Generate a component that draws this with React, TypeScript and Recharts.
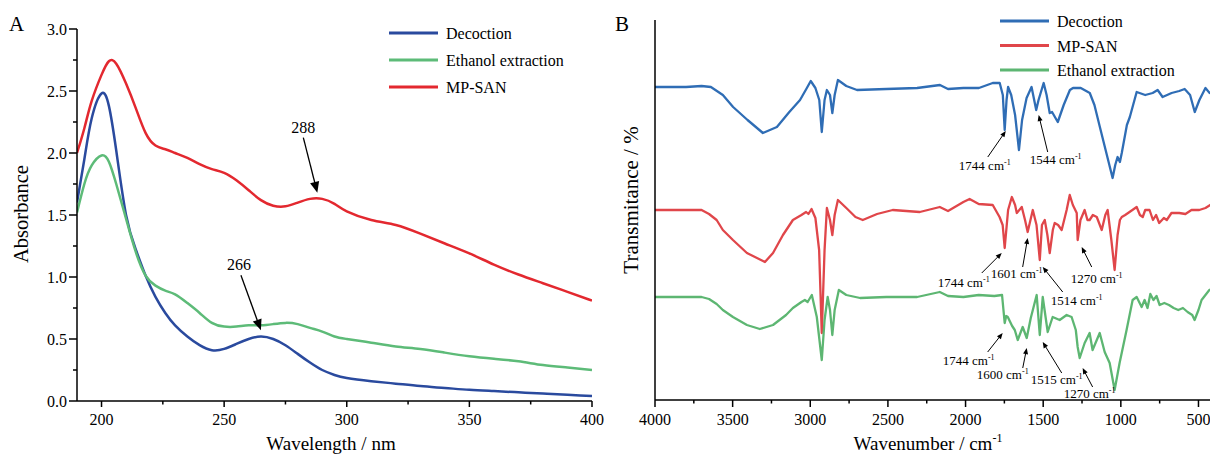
import { LineChart, Line, XAxis, YAxis, ReferenceDot, Legend } from "recharts";

const SERIF = '"Liberation Serif", "Times New Roman", serif';

// ---------- A: UV-vis absorbance ----------
const wavelength = [190, 193, 196, 200, 203, 206, 210, 214, 218, 222, 226, 230, 235, 240, 245, 250, 255, 260, 265, 270, 275, 280, 285, 290, 295, 300, 310, 320, 330, 340, 350, 360, 370, 380, 390, 400];
const decoctionAbs = [1.6, 1.95, 2.28, 2.48, 2.38, 2.02, 1.5, 1.22, 1.01, 0.84, 0.71, 0.61, 0.52, 0.45, 0.41, 0.42, 0.46, 0.5, 0.52, 0.5, 0.45, 0.38, 0.31, 0.25, 0.21, 0.185, 0.16, 0.14, 0.12, 0.105, 0.09, 0.08, 0.07, 0.06, 0.05, 0.04];
const ethanolAbs = [1.52, 1.75, 1.9, 1.98, 1.93, 1.75, 1.47, 1.2, 1.01, 0.93, 0.89, 0.86, 0.79, 0.71, 0.63, 0.6, 0.6, 0.61, 0.61, 0.62, 0.63, 0.62, 0.59, 0.56, 0.52, 0.5, 0.47, 0.44, 0.42, 0.39, 0.36, 0.34, 0.32, 0.29, 0.27, 0.25];
const mpsanAbs = [2.0, 2.2, 2.42, 2.63, 2.74, 2.72, 2.56, 2.36, 2.16, 2.06, 2.03, 2.0, 1.96, 1.91, 1.87, 1.84, 1.78, 1.7, 1.62, 1.575, 1.57, 1.6, 1.63, 1.63, 1.59, 1.53, 1.46, 1.42, 1.35, 1.27, 1.19, 1.1, 1.02, 0.95, 0.88, 0.81];
const wavelengthTicks = [200, 225, 250, 275, 300, 325, 350, 375, 400];
const absTicks = [0, 0.25, 0.5, 0.75, 1, 1.25, 1.5, 1.75, 2, 2.25, 2.5, 2.75, 3];
const uvPeaks = [
  { label: "288", nm: 288, abs: 1.68 },
  { label: "266", nm: 265, abs: 0.57 },
];

// ---------- B: FTIR (transmittance, curves offset) ----------
const decoctionIR: [number, number][] = [
  [4000, 313], [3800, 313], [3700, 314], [3640, 313], [3563, 305], [3497, 293], [3404, 280], [3305, 267], [3215, 273], [3135, 288],
  [3066, 300], [3022, 312], [2997, 319], [2967, 312], [2942, 300], [2926, 268], [2908, 300], [2893, 310], [2873, 305], [2858, 287],
  [2843, 305], [2822, 320], [2768, 314], [2699, 310], [2510, 311], [2312, 312], [2165, 315], [2113, 311], [2014, 312], [1914, 312],
  [1825, 317], [1780, 317], [1760, 305], [1748, 270], [1736, 300], [1726, 313], [1706, 305], [1681, 285], [1656, 250], [1636, 280],
  [1607, 302], [1575, 313], [1545, 290], [1530, 300], [1497, 317], [1478, 305], [1458, 287], [1443, 288], [1406, 278], [1368, 295],
  [1328, 310], [1308, 312], [1258, 312], [1200, 307], [1170, 295], [1135, 273], [1090, 245], [1053, 222], [1036, 235], [1021, 243],
  [1006, 238], [994, 247], [961, 275], [942, 283], [898, 308], [843, 305], [795, 307], [763, 310], [731, 303], [673, 307],
  [624, 309], [589, 311], [554, 305], [524, 288], [494, 300], [455, 312], [428, 307], [403, 309],
];
const mpsanIR: [number, number][] = [
  [4000, 190], [3800, 190], [3700, 190], [3652, 186], [3603, 180], [3563, 170], [3498, 160], [3408, 147], [3292, 138], [3240, 147],
  [3176, 165], [3112, 180], [3057, 185], [3027, 188], [3012, 186], [2992, 191], [2967, 182], [2943, 150], [2926, 67], [2908, 150],
  [2893, 192], [2873, 180], [2858, 165], [2843, 185], [2822, 200], [2768, 192], [2709, 183], [2662, 180], [2570, 186], [2469, 190],
  [2295, 188], [2166, 193], [2113, 189], [2014, 198], [1974, 201], [1915, 196], [1825, 195], [1781, 183], [1761, 175], [1748, 152],
  [1726, 190], [1702, 203], [1681, 195], [1670, 187], [1638, 193], [1617, 180], [1600, 168], [1567, 190], [1543, 175], [1522, 140],
  [1508, 175], [1490, 180], [1473, 165], [1458, 147], [1438, 170], [1426, 177], [1404, 175], [1381, 170], [1349, 190], [1329, 205],
  [1309, 195], [1284, 187], [1278, 160], [1260, 180], [1233, 190], [1215, 180], [1201, 180], [1180, 185], [1155, 183], [1123, 170],
  [1100, 185], [1085, 190], [1061, 160], [1040, 130], [1021, 165], [1006, 180], [994, 183], [972, 185], [944, 188], [898, 193],
  [877, 185], [859, 183], [843, 190], [815, 190], [793, 180], [773, 185], [753, 177], [723, 182], [704, 180], [674, 187],
  [624, 187], [584, 186], [545, 190], [495, 190], [455, 192], [403, 197],
];
const ethanolIR: [number, number][] = [
  [4000, 103], [3800, 103], [3700, 103], [3652, 101], [3603, 96], [3563, 90], [3498, 83], [3408, 75], [3325, 71], [3240, 75],
  [3156, 85], [3112, 92], [3057, 98], [3035, 100], [3017, 98], [2990, 105], [2958, 83], [2926, 40], [2908, 80], [2888, 103],
  [2873, 90], [2858, 65], [2843, 90], [2816, 110], [2768, 105], [2679, 102], [2510, 103], [2312, 103], [2166, 108], [2113, 104],
  [2014, 103], [1915, 105], [1815, 104], [1765, 105], [1748, 77], [1738, 84], [1728, 83], [1700, 74], [1683, 70], [1664, 60],
  [1632, 73], [1606, 62], [1580, 82], [1542, 105], [1522, 65], [1503, 103], [1471, 68], [1439, 83], [1394, 80], [1349, 85],
  [1317, 83], [1290, 70], [1278, 53], [1265, 42], [1233, 57], [1201, 67], [1182, 50], [1136, 67], [1104, 48], [1072, 37],
  [1040, 10], [1008, 37], [963, 70], [924, 100], [898, 103], [866, 93], [847, 100], [828, 92], [810, 106], [790, 100],
  [770, 104], [750, 95], [720, 97], [690, 95], [660, 92], [630, 90], [600, 92], [570, 88], [540, 85], [525, 80],
  [500, 90], [480, 100], [455, 105], [430, 110], [403, 112],
];
const wavenumberTicks = [4000, 3750, 3500, 3250, 3000, 2750, 2500, 2250, 2000, 1750, 1500, 1250, 1000, 750, 500];
const irBands = [
  { label: "1744", wn: 1741, t: 269 },
  { label: "1544", wn: 1529, t: 285 },
  { label: "1744", wn: 1767, t: 147 },
  { label: "1601", wn: 1600, t: 162 },
  { label: "1514", wn: 1503, t: 133 },
  { label: "1270", wn: 1252, t: 153 },
  { label: "1744", wn: 1761, t: 67 },
  { label: "1600", wn: 1606, t: 52 },
  { label: "1515", wn: 1503, t: 58 },
  { label: "1270", wn: 1246, t: 32 },
];

// callout offsets (px): arrow tail dx/dy and text tx/ty from the arrow tip
const uvCallouts = [
  { dx: -14, dy: -55, tx: -14, ty: -60 },
  { dx: -20, dy: -55, tx: -22, ty: -60 },
];
const irCallouts = [
  { dx: -18, dy: 26, tx: -21, ty: 39 },
  { dx: 9, dy: 37, tx: 17, ty: 49 },
  { dx: -20, dy: 20, tx: -38, ty: 34 },
  { dx: -5, dy: 29, tx: -11, ty: 40 },
  { dx: 20, dy: 25, tx: 34, ty: 38 },
  { dx: 10, dy: 20, tx: 15, ty: 36 },
  { dx: -15, dy: 19, tx: -34, ty: 32 },
  { dx: -4, dy: 20, tx: -24, ty: 31 },
  { dx: 19, dy: 31, tx: 14, ty: 42 },
  { dx: 10, dy: 19, tx: 7, ty: 30 },
];

const uvSeries = [
  { key: "dec", name: "Decoction", color: "#2a4a9e" },
  { key: "eth", name: "Ethanol extraction", color: "#5dbb78" },
  { key: "mp", name: "MP-SAN", color: "#e3282f" },
];
const irSeries = [
  { name: "Decoction", color: "#2f6db5", data: decoctionIR },
  { name: "MP-SAN", color: "#e0464a", data: mpsanIR },
  { name: "Ethanol extraction", color: "#5db672", data: ethanolIR },
];

const uvData = wavelength.map((nm, i) => ({
  nm,
  dec: decoctionAbs[i],
  eth: ethanolAbs[i],
  mp: mpsanAbs[i],
}));

function UvXTick({ x, y, payload }: any) {
  const major = payload.value % 50 === 0;
  return (
    <g>
      <line x1={x} y1={y} x2={x} y2={y + (major ? 6 : 3.5)} stroke="#000" strokeWidth={1.5} />
      {major && (
        <text x={x} y={y + 24} textAnchor="middle" fontFamily={SERIF} fontSize={16} fill="#000">
          {payload.value}
        </text>
      )}
    </g>
  );
}

function UvYTick({ x, y, payload }: any) {
  const major = Math.abs(payload.value * 2 - Math.round(payload.value * 2)) < 1e-6;
  return (
    <g>
      <line x1={x - (major ? 8 : 4)} y1={y} x2={x} y2={y} stroke="#000" strokeWidth={1.5} />
      {major && (
        <text x={x - 10} y={y + 5.5} textAnchor="end" fontFamily={SERIF} fontSize={16} fill="#000">
          {payload.value.toFixed(1)}
        </text>
      )}
    </g>
  );
}

function IrXTick({ x, y, payload }: any) {
  const major = payload.value % 500 === 0;
  return (
    <g>
      <line x1={x} y1={y} x2={x} y2={y + (major ? 7 : 3.5)} stroke="#000" strokeWidth={1.5} />
      {major && (
        <text x={x} y={y + 25} textAnchor="middle" fontFamily={SERIF} fontSize={16} fill="#000">
          {payload.value}
        </text>
      )}
    </g>
  );
}

function Callout({ cx, cy, label, dx, dy, tx, ty, head, size, unit, width }: any) {
  const x0 = cx + dx;
  const y0 = cy + dy;
  const len = Math.hypot(cx - x0, cy - y0);
  const ux = (cx - x0) / len;
  const uy = (cy - y0) / len;
  const bx = cx - ux * head;
  const by = cy - uy * head;
  const w = head * 0.42;
  return (
    <g>
      <line x1={x0} y1={y0} x2={bx + ux} y2={by + uy} stroke="#000" strokeWidth={width} />
      <polygon points={`${cx},${cy} ${bx - uy * w},${by + ux * w} ${bx + uy * w},${by - ux * w}`} fill="#000" />
      <text x={cx + tx} y={cy + ty} textAnchor="middle" fontFamily={SERIF} fontSize={size} fill="#000">
        {label}
        {unit && " cm"}
        {unit && (
          <tspan dy={-5} fontSize={8}>
            -1
          </tspan>
        )}
      </text>
    </g>
  );
}

function LegendSvg({ items, gap }: { items: { name: string; color: string }[]; gap: number }) {
  return (
    <svg width={220} height={items.length * gap + 4}>
      {items.map((it, i) => (
        <g key={it.name}>
          <line x1={0} x2={49} y1={12 + i * gap} y2={12 + i * gap} stroke={it.color} strokeWidth={3} />
          <text x={57} y={18 + i * gap} fontFamily={SERIF} fontSize={16} fill="#000">
            {it.name}
          </text>
        </g>
      ))}
    </svg>
  );
}

export default function App() {
  return (
    <div style={{ position: "relative", width: 1210, height: 457, overflow: "hidden", background: "#fff" }}>
      <style>{"body{margin:0;overflow:hidden}"}</style>

      <div style={{ position: "absolute", left: 0, top: 0 }}>
        <LineChart width={615} height={457} data={uvData} margin={{ top: 29, right: 23, bottom: 0, left: 0 }}>
          <XAxis
            dataKey="nm"
            type="number"
            domain={[190, 400]}
            ticks={wavelengthTicks}
            interval={0}
            tickSize={0}
            tickMargin={0}
            tickLine={false}
            tick={<UvXTick />}
            height={56}
            axisLine={{ stroke: "#000", strokeWidth: 1.5 }}
            allowDataOverflow
          />
          <YAxis
            type="number"
            domain={[0, 3]}
            ticks={absTicks}
            interval={0}
            tickSize={0}
            tickMargin={0}
            tickLine={false}
            tick={<UvYTick />}
            width={77}
            axisLine={{ stroke: "#000", strokeWidth: 1.5 }}
          />
          <Legend
            verticalAlign="middle"
            align="center"
            layout="horizontal"
            wrapperStyle={{ left: 389, top: 21, width: 220 }}
            content={() => <LegendSvg items={uvSeries} gap={27} />}
          />
          {uvSeries.map((s) => (
            <Line
              key={s.key}
              dataKey={s.key}
              name={s.name}
              type="natural"
              stroke={s.color}
              strokeWidth={2.5}
              dot={false}
              isAnimationActive={false}
            />
          ))}
          {uvPeaks.map((p, i) => (
            <ReferenceDot
              key={p.label}
              x={p.nm}
              y={p.abs}
              r={1}
              ifOverflow="visible"
              shape={(props: any) => (
                <Callout {...props} {...uvCallouts[i]} label={p.label} head={11} size={16} width={1.3} />
              )}
            />
          ))}
        </LineChart>
      </div>

      <div style={{ position: "absolute", left: 600, top: 0 }}>
        <LineChart width={616} height={457} margin={{ top: 20, right: 2, bottom: 0, left: 0 }}>
          <XAxis
            dataKey="wn"
            type="number"
            domain={[400, 4000]}
            reversed
            ticks={wavenumberTicks}
            interval={0}
            tickSize={0}
            tickMargin={0}
            tickLine={false}
            tick={<IrXTick />}
            height={57}
            axisLine={{ stroke: "#000", strokeWidth: 1.5 }}
            allowDataOverflow
          />
          <YAxis
            type="number"
            domain={[0, 380]}
            tick={false}
            tickLine={false}
            width={55}
            axisLine={{ stroke: "#000", strokeWidth: 1.5 }}
          />
          <Legend
            verticalAlign="middle"
            align="center"
            layout="horizontal"
            wrapperStyle={{ left: 400, top: 9, width: 220 }}
            content={() => <LegendSvg items={irSeries} gap={24.5} />}
          />
          {irSeries.map((s) => (
            <Line
              key={s.name}
              data={s.data.map(([wn, t]) => ({ wn, t }))}
              dataKey="t"
              name={s.name}
              type="linear"
              stroke={s.color}
              strokeWidth={2.3}
              strokeLinejoin="round"
              dot={false}
              isAnimationActive={false}
            />
          ))}
          {irBands.map((b, i) => (
            <ReferenceDot
              key={i}
              x={b.wn}
              y={b.t}
              r={1}
              ifOverflow="visible"
              shape={(props: any) => (
                <Callout {...props} {...irCallouts[i]} label={b.label} unit head={6} size={13} width={1} />
              )}
            />
          ))}
        </LineChart>
      </div>

      <svg
        width={1210}
        height={457}
        style={{ position: "absolute", left: 0, top: 0, pointerEvents: "none" }}
        fontFamily={SERIF}
        fill="#000"
      >
        <text x={9} y={31} fontSize={21}>A</text>
        <text x={615} y={31} fontSize={21}>B</text>
        <text transform="translate(28,214) rotate(-90)" textAnchor="middle" fontSize={20.5}>Absorbance</text>
        <text x={331} y={450} textAnchor="middle" fontSize={19}>Wavelength / nm</text>
        <text transform="translate(638,200) rotate(-90)" textAnchor="middle" fontSize={21}>Transmitance / %</text>
        <text x={928} y={450} textAnchor="middle" fontSize={19}>
          Wavenumber / cm<tspan dy={-8} fontSize={12}>-1</tspan>
        </text>
      </svg>
    </div>
  );
}
